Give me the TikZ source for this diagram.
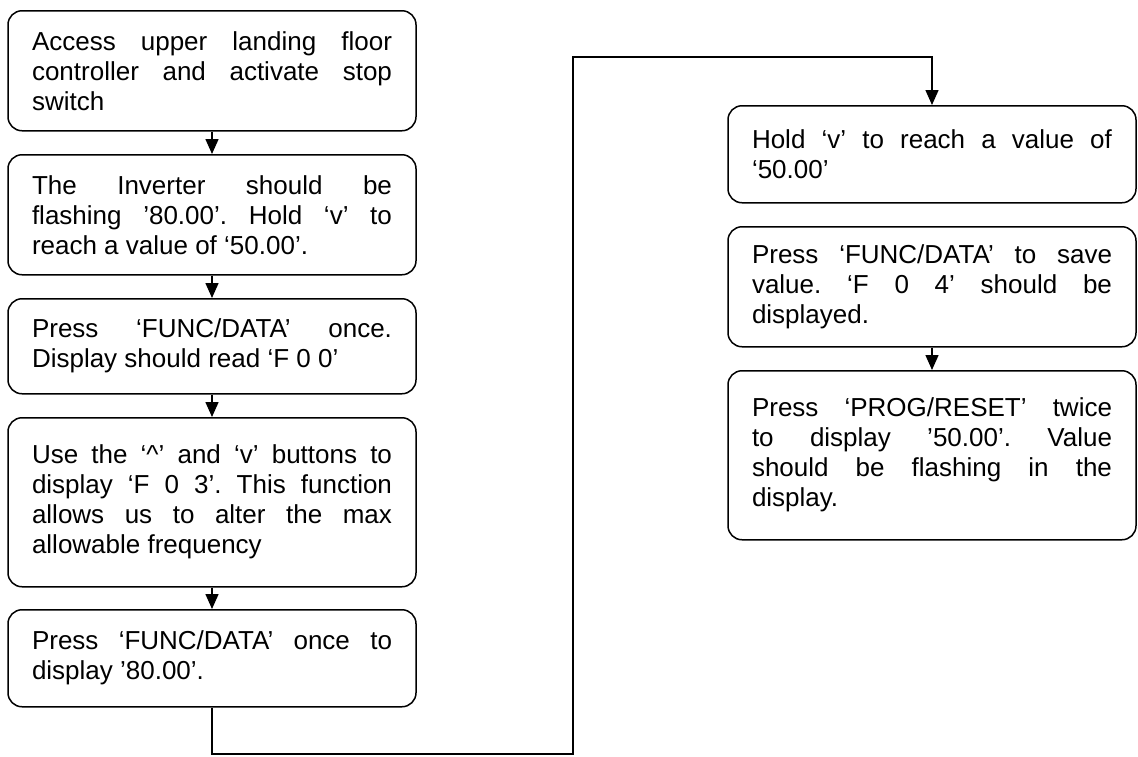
\documentclass[tikz,border=0pt]{standalone}
\usepackage{fontspec}
\setmainfont{Liberation Sans}
\usetikzlibrary{arrows.meta}

\frenchspacing
\tolerance=10000
\hyphenpenalty=10000

\tikzset{
	stepbox/.style = {draw, line width = 1.5pt, rounded corners = 14pt, anchor = north,
		inner xsep = 24pt, inner ysep = 0pt, font = \fontsize{26}{30}\selectfont,
		execute at begin node = \begin{minipage}{360pt},
		execute at end node = \end{minipage}},
	flow/.style = {line width = 1.5pt, -{Triangle[length = 15pt, width = 13pt]}}
}

\begin{document}
\begin{tikzpicture}
		\def\lx{212pt};
		\def\rx{932pt};
		\def\loopx{573pt};
		
		\useasboundingbox (0,0) rectangle (1138pt,-756pt);
		
		\node [stepbox, minimum height = 120pt] (access) at (\lx,-10pt)
			{Access upper landing floor\linebreak controller and activate stop\linebreak switch};
		\node [stepbox, minimum height = 120pt] (flashing) at (\lx,-154pt)
			{The Inverter should be\linebreak flashing ’80.00’. Hold ‘v’ to\linebreak reach a value of ‘50.00’.};
		\node [stepbox, minimum height = 95pt] (func once) at (\lx,-298pt)
			{Press ‘FUNC/DATA’ once.\linebreak Display should read ‘F 0 0’};
		\node [stepbox, minimum height = 169pt] (buttons) at (\lx,-417pt)
			{Use the ‘\textasciicircum’ and ‘v’ buttons to\linebreak display ‘F 0 3’. This function\linebreak allows us to alter the max\linebreak allowable frequency};
		\node [stepbox, minimum height = 97pt] (func display) at (\lx,-609pt)
			{Press ‘FUNC/DATA’ once to\linebreak display ’80.00’.};
		
		\node [stepbox, minimum height = 97pt] (hold) at (\rx,-105pt)
			{Hold ‘v’ to reach a value of\linebreak ‘50.00’};
		\node [stepbox, minimum height = 120pt] (save) at (\rx,-226pt)
			{Press ‘FUNC/DATA’ to save\linebreak value. ‘F 0 4’ should be\linebreak displayed.};
		\node [stepbox, minimum height = 169pt] (prog reset) at (\rx,-370pt)
			{Press ‘PROG/RESET’ twice\linebreak to display ’50.00’. Value\linebreak should be flashing in the\linebreak display.};
		
		\draw [flow] (access.south) -- (flashing.north);
		\draw [flow] (flashing.south) -- (func once.north);
		\draw [flow] (func once.south) -- (buttons.north);
		\draw [flow] (buttons.south) -- (func display.north);
		\draw [flow] (save.south) -- (prog reset.north);
		
		\coordinate (loop bottom) at (\loopx,-754pt);
		\coordinate (loop top) at (\loopx,-57pt);
		\draw [flow] (func display.south) |- (loop bottom) -- (loop top) -| (hold.north);
	\end{tikzpicture}
\end{document}
